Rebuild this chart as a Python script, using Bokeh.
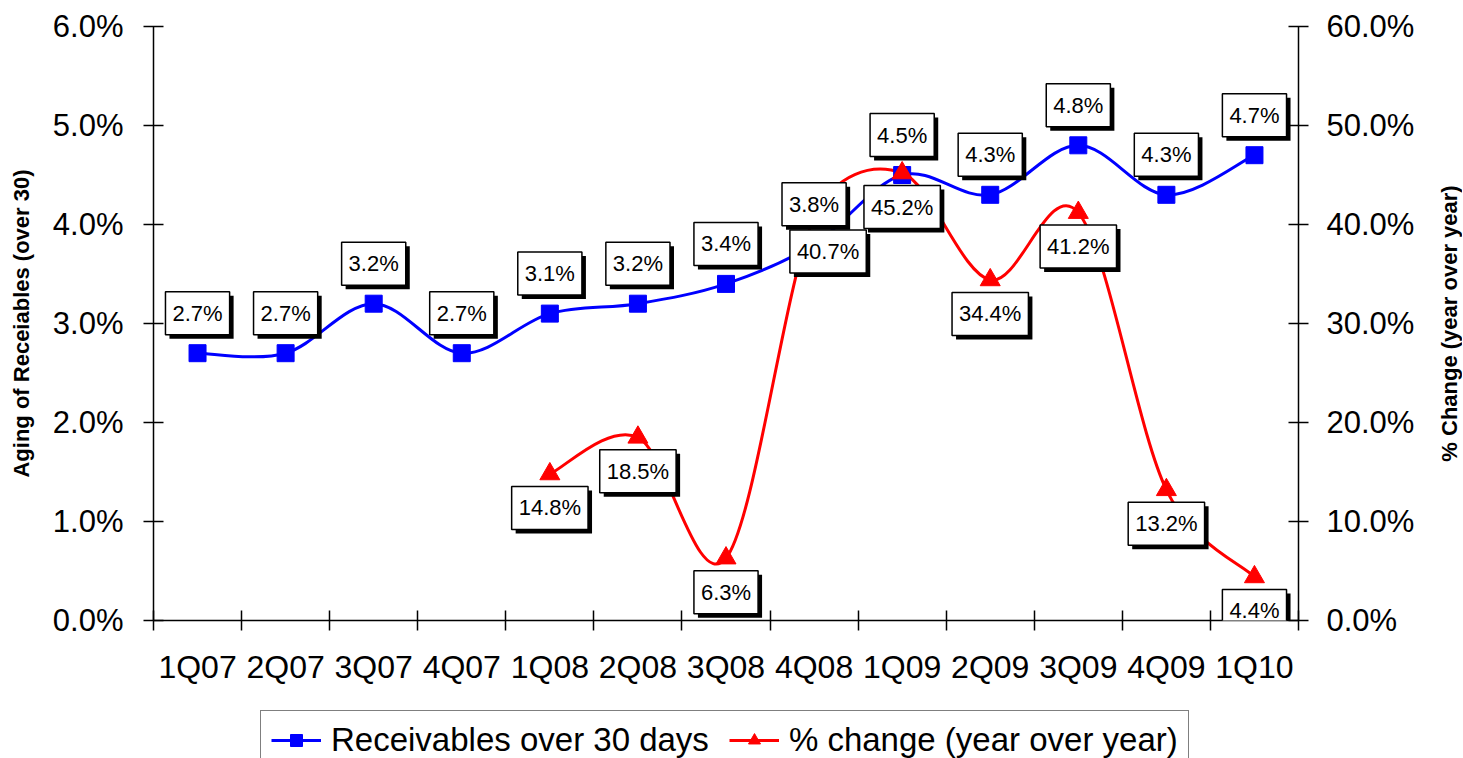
import numpy as np
from bokeh.plotting import figure
from bokeh.layouts import column, row
from bokeh.models import (ColumnDataSource, Range1d, LinearAxis, FixedTicker,
                          PrintfTickFormatter, Label, Legend, LegendItem, Title)
from bokeh.embed import file_html
from bokeh.resources import INLINE

# ---------------- data ----------------
quarters = ["1Q07", "2Q07", "3Q07", "4Q07", "1Q08", "2Q08", "3Q08",
            "4Q08", "1Q09", "2Q09", "3Q09", "4Q09", "1Q10"]
receivables = [2.7, 2.7, 3.2, 2.7, 3.1, 3.2, 3.4, 3.8, 4.5, 4.3, 4.8, 4.3, 4.7]
yoy_change = [None, None, None, None, 14.8, 18.5, 6.3, 40.7, 45.2, 34.4, 41.2, 13.2, 4.4]
left_ticks = [0, 1, 2, 3, 4, 5, 6]
right_ticks = [0, 10, 20, 30, 40, 50, 60]
left_title = "Aging of Receiables (over 30)"
right_title = "% Change (year over year)"

# label nudges (screen px), layout only
red_label_dx = [0, 0, 0, 0, 0, 0, 0, 14, 0, 0, 0, 0, 0]

FONT = "Liberation Sans"
BLUE = "#0000FF"
RED = "#FF0000"

# ---------------- layout constants (px) ----------------
TOP = 26
FRAME_W = 1145
FRAME_H = 594
LEFT = 153
RIGHT = 123
BOTTOM = 88
Y_MAX = 6.0
PCT_MAX = 60.0
px_per_unit = FRAME_H / Y_MAX

n = len(quarters)
xc = [i + 0.5 for i in range(n)]
sx = FRAME_W / n


def bezier_source(xs, ys, sy):
    """Excel-like smoothing: Catmull-Rom Bezier arms (1/6), capped at half
    the segment length, computed in screen proportions."""
    X = [x * sx for x in xs]
    Y = [y * sy for y in ys]
    m = len(X)
    d = dict(x0=[], y0=[], x1=[], y1=[], cx0=[], cy0=[], cx1=[], cy1=[])
    for i in range(m - 1):
        a = max(i - 1, 0); b = i; c = i + 1; e = min(i + 2, m - 1)
        d12 = np.hypot(X[c] - X[b], Y[c] - Y[b])
        d02 = np.hypot(X[c] - X[a], Y[c] - Y[a])
        d13 = np.hypot(X[e] - X[b], Y[e] - Y[b])
        f0 = 1 / 6.0
        f3 = 1 / 6.0
        if d02 * f0 > d12 / 2 and d02 > 0:
            f0 = d12 / 2 / d02
        if d13 * f3 > d12 / 2 and d13 > 0:
            f3 = d12 / 2 / d13
        c0x = X[b] + f0 * (X[c] - X[a]); c0y = Y[b] + f0 * (Y[c] - Y[a])
        c1x = X[c] - f3 * (X[e] - X[b]); c1y = Y[c] - f3 * (Y[e] - Y[b])
        d["x0"].append(xs[b]); d["y0"].append(ys[b])
        d["x1"].append(xs[c]); d["y1"].append(ys[c])
        d["cx0"].append(c0x / sx); d["cy0"].append(c0y / sy)
        d["cx1"].append(c1x / sx); d["cy1"].append(c1y / sy)
    return ColumnDataSource(d)


blue_src = ColumnDataSource(dict(x=xc, y=receivables))
red_idx = [i for i, v in enumerate(yoy_change) if v is not None]
red_src = ColumnDataSource(dict(x=[xc[i] for i in red_idx],
                                y=[yoy_change[i] for i in red_idx]))


def clean(fig):
    fig.outline_line_color = None
    fig.xgrid.visible = False
    fig.ygrid.visible = False
    fig.background_fill_color = "white"
    fig.border_fill_color = "white"


p = figure(frame_width=FRAME_W, frame_height=FRAME_H,
           x_range=Range1d(0, n), y_range=Range1d(0, Y_MAX),
           x_axis_type=None, y_axis_type=None,
           output_backend="svg", toolbar_location=None,
           min_border_left=LEFT, min_border_right=RIGHT,
           min_border_top=TOP, min_border_bottom=BOTTOM)
p.extra_y_ranges = {"pct": Range1d(0, PCT_MAX)}
clean(p)


def style_axis(ax, size):
    ax.axis_line_color = "black"
    ax.axis_line_width = 1.5
    ax.major_tick_line_color = "black"
    ax.major_tick_line_width = 1.5
    ax.minor_tick_line_color = "black"
    ax.minor_tick_line_width = 1.5
    ax.major_label_text_font = FONT
    ax.major_label_text_font_size = size
    ax.major_label_text_color = "black"
    ax.axis_label_text_font = FONT
    ax.axis_label_text_font_style = "bold"
    ax.axis_label_text_font_size = "22px"
    ax.axis_label_text_color = "black"


yl = LinearAxis(ticker=FixedTicker(ticks=left_ticks, minor_ticks=[]),
                formatter=PrintfTickFormatter(format="%.1f%%"),
                axis_label=left_title)
style_axis(yl, "31px")
yl.major_tick_in = 10
yl.major_tick_out = 10
yl.major_label_standoff = 20
yl.axis_label_standoff = 16
p.add_layout(yl, "left")

yr = LinearAxis(y_range_name="pct",
                ticker=FixedTicker(ticks=right_ticks, minor_ticks=[]),
                formatter=PrintfTickFormatter(format="%.1f%%"))
style_axis(yr, "31px")
yr.major_tick_in = 10
yr.major_tick_out = 10
yr.major_label_standoff = 18
p.add_layout(yr, "right")

xa = LinearAxis(ticker=FixedTicker(ticks=xc, minor_ticks=list(range(n + 1))),
                major_label_overrides={x: q for x, q in zip(xc, quarters)})
style_axis(xa, "32px")
xa.major_tick_in = 0
xa.major_tick_out = 0
xa.minor_tick_in = 10
xa.minor_tick_out = 10
xa.major_label_standoff = 18
p.add_layout(xa, "below")

blue_curve = bezier_source(xc, receivables, px_per_unit)
red_curve = bezier_source(red_src.data["x"], red_src.data["y"],
                          px_per_unit * Y_MAX / PCT_MAX)

# smoothed lines
p.bezier(x0="x0", y0="y0", x1="x1", y1="y1", cx0="cx0", cy0="cy0",
         cx1="cx1", cy1="cy1", source=blue_curve,
         line_color=BLUE, line_width=3)
p.bezier(x0="x0", y0="y0", x1="x1", y1="y1", cx0="cx0", cy0="cy0",
         cx1="cx1", cy1="cy1", source=red_curve,
         line_color=RED, line_width=3, y_range_name="pct")

p.scatter("x", "y", source=blue_src, marker="square", size=17,
          fill_color=BLUE, line_color=BLUE)
p.scatter("x", "y", source=red_src, marker="triangle", size=20,
          fill_color=RED, line_color=RED, y_range_name="pct")

lab_kw = dict(text_font=FONT, text_font_size="22px", text_color="black",
              text_align="center", text_baseline="middle", padding=(7, 9))


def add_box_label(x, y, txt, dx, dy, range_name="default"):
    p.add_layout(Label(x=x, y=y, text=txt, x_offset=dx + 4, y_offset=dy - 4,
                       y_range_name=range_name,
                       background_fill_color="black", **lab_kw))
    p.add_layout(Label(x=x, y=y, text=txt, x_offset=dx, y_offset=dy,
                       y_range_name=range_name,
                       background_fill_color="white",
                       border_line_color="black", border_line_width=1.5,
                       **lab_kw))


for x, v in zip(xc, receivables):
    add_box_label(x, v, f"{v:.1f}%", 0, 40)
for i in red_idx:
    add_box_label(xc[i], yoy_change[i], f"{yoy_change[i]:.1f}%",
                  red_label_dx[i], -34, "pct")

# ---------------- legend strip (second figure) ----------------
LEG_H = 50
p2 = figure(frame_width=FRAME_W, frame_height=LEG_H,
            x_range=Range1d(0, n), y_range=Range1d(100, 101),
            x_axis_type=None, y_axis_type=None,
            output_backend="svg", toolbar_location=None,
            min_border_left=LEFT, min_border_right=RIGHT,
            min_border_top=0, min_border_bottom=0)
clean(p2)

# legend proxies: same series, outside this strip's visible range
bl = p2.line("x", "y", source=blue_src, line_color=BLUE, line_width=3)
bs = p2.scatter("x", "y", source=blue_src, marker="square",
                fill_color=BLUE, line_color=BLUE)
rl = p2.line("x", "y", source=red_src, line_color=RED, line_width=3)
rs = p2.scatter("x", "y", source=red_src, marker="triangle",
                fill_color=RED, line_color=RED)

legend = Legend(items=[
    LegendItem(label="Receivables over 30 days", renderers=[bl, bs]),
    LegendItem(label="% change (year over year)", renderers=[rl, rs]),
], orientation="horizontal", location=(107, -12))
legend.label_text_font = FONT
legend.label_text_font_size = "33px"
legend.label_text_color = "black"
legend.glyph_width = 50
legend.glyph_height = 30
legend.label_standoff = 10
legend.spacing = 20
legend.padding = 10
legend.margin = 0
legend.border_line_color = "black"
legend.border_line_width = 1.5
legend.background_fill_color = "white"
legend.background_fill_alpha = 1
p2.add_layout(legend, "center")

# ---------------- right-hand axis title (reads bottom-to-top) ----------------
p3 = figure(frame_width=1, frame_height=FRAME_H,
            x_range=Range1d(0, 1), y_range=Range1d(0, PCT_MAX),
            x_axis_type=None, y_axis_type=None,
            output_backend="svg", toolbar_location=None,
            min_border_left=40, min_border_right=0,
            min_border_top=TOP, min_border_bottom=0)
clean(p3)
p3.add_layout(Title(text=right_title, align="center", vertical_align="bottom",
                    text_font=FONT, text_font_size="22px",
                    text_font_style="bold", text_color="black", standoff=0),
              "left")

open("out.html", "w").write(file_html(row(column(p, p2), p3), INLINE))
